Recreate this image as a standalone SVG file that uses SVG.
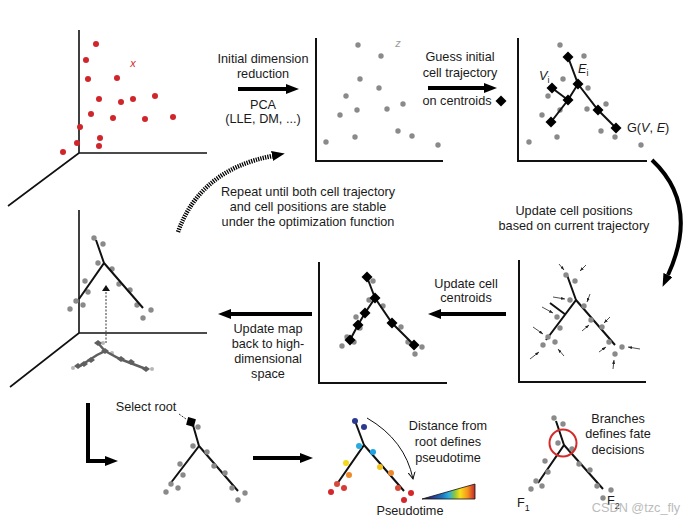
<svg xmlns="http://www.w3.org/2000/svg" width="693" height="525" viewBox="0 0 693 525">
<defs>
<style>
.t{font-family:"Liberation Sans",Arial,sans-serif;font-size:12.7px;fill:#1a1a1a;text-anchor:middle}
.ts{font-family:"Liberation Sans",Arial,sans-serif;font-size:12.7px;fill:#1a1a1a}
.ax{stroke:#111;stroke-width:2;fill:none}
.ax1{stroke:#111;stroke-width:1.6;fill:none}
.tr{stroke:#111;stroke-width:2;fill:none}
.g{fill:#8a8a8a}
.r{fill:#d0262b}
.dm{fill:#000}
.big{stroke:#000;stroke-width:4;fill:none}
.sm{stroke:#222;stroke-width:0.8;fill:none}
</style>
<marker id="ah" markerUnits="userSpaceOnUse" viewBox="0 0 13 10" refX="0" refY="5" markerWidth="13" markerHeight="10" orient="auto">
<path d="M0,0 L13,5 L0,10 z" fill="#000"/>
</marker>
<marker id="sa" markerUnits="userSpaceOnUse" viewBox="0 0 4 3" refX="4" refY="1.5" markerWidth="4" markerHeight="3" orient="auto">
<path d="M0,0 L4,1.5 L0,3 z" fill="#222"/>
</marker>
<marker id="va" markerUnits="userSpaceOnUse" viewBox="0 0 8 8" refX="7" refY="4" markerWidth="8" markerHeight="8" orient="auto">
<path d="M0,0.5 L7,4 L0,7.5" fill="none" stroke="#111" stroke-width="1"/>
</marker>
<marker id="da" markerUnits="userSpaceOnUse" viewBox="0 0 6 8" refX="0" refY="4" markerWidth="6" markerHeight="8" orient="auto">
<path d="M0,0 L6,4 L0,8 z" fill="#111"/>
</marker>
<linearGradient id="pg" x1="0" y1="0" x2="1" y2="0">
<stop offset="0" stop-color="#14143a"/>
<stop offset="0.2" stop-color="#2b3990"/>
<stop offset="0.38" stop-color="#1b75bb"/>
<stop offset="0.5" stop-color="#29abe2"/>
<stop offset="0.62" stop-color="#8dc63f"/>
<stop offset="0.72" stop-color="#f7e01a"/>
<stop offset="0.86" stop-color="#f7941d"/>
<stop offset="1" stop-color="#c1272d"/>
</linearGradient>
<path id="d" d="M0,-5.5 L5.5,0 L0,5.5 L-5.5,0 z"/>
</defs>
<rect width="693" height="525" fill="#fff"/>

<g id="panel-high-dim">
<path class="ax1" d="M79,30 V153 H207 M79,153 L8,206"/>
<g class="r">
<circle cx="96" cy="44" r="3"/><circle cx="86" cy="60" r="3"/><circle cx="88" cy="79" r="3"/><circle cx="117" cy="78" r="3"/>
<circle cx="99" cy="99" r="3"/><circle cx="121" cy="102" r="3"/><circle cx="133" cy="99" r="3"/><circle cx="155" cy="96" r="3"/>
<circle cx="91" cy="114" r="3"/><circle cx="113" cy="118" r="3"/><circle cx="145" cy="119" r="3"/><circle cx="173" cy="117" r="3"/>
<circle cx="80" cy="127" r="3"/><circle cx="100" cy="138" r="3"/><circle cx="77" cy="143" r="3"/><circle cx="99" cy="146" r="3"/><circle cx="63" cy="152" r="3"/>
</g>
<text x="133" y="67" class="t" style="font-size:11px;fill:#d0262b;font-style:italic">x</text>
</g>

<g id="panel-reduced">
<path class="ax" d="M316,38 V161 H443"/>
<g class="g">
<circle cx="358" cy="45" r="2.7"/><circle cx="381" cy="56" r="2.7"/><circle cx="360" cy="79" r="2.7"/><circle cx="379" cy="88" r="2.7"/>
<circle cx="346" cy="96" r="2.7"/><circle cx="357" cy="110" r="2.7"/><circle cx="387" cy="109" r="2.7"/><circle cx="403" cy="104" r="2.7"/>
<circle cx="340" cy="115" r="2.7"/><circle cx="326" cy="142" r="2.7"/><circle cx="355" cy="137" r="2.7"/><circle cx="398" cy="131" r="2.7"/>
<circle cx="412" cy="136" r="2.7"/><circle cx="438" cy="145" r="2.7"/>
</g>
<text x="398" y="47" class="t" style="font-size:11px;fill:#999;font-style:italic">z</text>
</g>

<g id="panel-initial-trajectory">
<path class="ax" d="M518,38 V161 H647"/>
<g class="g">
<circle cx="560" cy="45" r="2.7"/><circle cx="584" cy="56" r="2.7"/><circle cx="563" cy="79" r="2.7"/><circle cx="588" cy="88" r="2.7"/>
<circle cx="548" cy="96" r="2.7"/><circle cx="560" cy="110" r="2.7"/><circle cx="587" cy="109" r="2.7"/><circle cx="606" cy="104" r="2.7"/>
<circle cx="542" cy="115" r="2.7"/><circle cx="529" cy="142" r="2.7"/><circle cx="557" cy="137" r="2.7"/><circle cx="601" cy="131" r="2.7"/>
<circle cx="615" cy="137" r="2.7"/><circle cx="641" cy="145" r="2.7"/>
</g>
<path class="tr" d="M568,57 L578,84 L568,100 L551,122 M552,88 L568,100 M578,84 L598,110 L616,128"/>
<g class="dm">
<use href="#d" x="568" y="57"/><use href="#d" x="578" y="84"/><use href="#d" x="552" y="88"/><use href="#d" x="568" y="100"/>
<use href="#d" x="551" y="122"/><use href="#d" x="598" y="110"/><use href="#d" x="616" y="128"/>
</g>
<text x="539" y="80" class="ts"><tspan font-style="italic">V</tspan><tspan font-size="9" dy="3">i</tspan></text>
<text x="578" y="73" class="ts"><tspan font-style="italic">E</tspan><tspan font-size="9" dy="3">i</tspan></text>
<text x="627" y="132" class="ts">G(<tspan font-style="italic">V</tspan>, <tspan font-style="italic">E</tspan>)</text>
</g>

<g id="panel-update-positions">
<path class="ax" d="M519,260 V382 H646"/>
<path class="tr" d="M567,275 L576,300 L546,340 M550,303 L566,315 M576,300 L615,345"/>
<g class="g">
<circle cx="566" cy="275" r="2.7"/><circle cx="575" cy="281" r="2.7"/><circle cx="570" cy="300" r="2.7"/><circle cx="584" cy="306" r="2.7"/>
<circle cx="557" cy="317" r="2.7"/><circle cx="591" cy="320" r="2.7"/><circle cx="560" cy="328" r="2.7"/><circle cx="602" cy="327" r="2.7"/>
<circle cx="548" cy="337" r="2.7"/><circle cx="555" cy="342" r="2.7"/><circle cx="543" cy="345" r="2.7"/><circle cx="609" cy="342" r="2.7"/>
<circle cx="622" cy="347" r="2.7"/><circle cx="615" cy="354" r="2.7"/>
</g>
<g class="sm" marker-end="url(#sa)">
<path d="M559,264 L564,270"/><path d="M586,265 L580,271"/><path d="M553,297 L565,299"/><path d="M590,294 L587,302"/>
<path d="M542,307 L553,313"/><path d="M582,331 L589,325"/><path d="M610,317 L604,323"/><path d="M533,327 L543,334"/>
<path d="M530,359 L539,352"/><path d="M564,356 L558,349"/><path d="M599,352 L606,347"/><path d="M640,349 L628,347"/>
<path d="M613,369 L614,360"/>
</g>
</g>

<g id="panel-update-centroids">
<path class="ax" d="M319,262 V383 H447"/>
<g class="g">
<circle cx="373" cy="281" r="2.7"/><circle cx="369" cy="300" r="2.7"/><circle cx="383" cy="306" r="2.7"/><circle cx="356" cy="317" r="2.7"/>
<circle cx="360" cy="328" r="2.7"/><circle cx="347" cy="337" r="2.7"/><circle cx="354" cy="342" r="2.7"/><circle cx="342" cy="346" r="2.7"/>
<circle cx="401" cy="327" r="2.7"/><circle cx="408" cy="342" r="2.7"/><circle cx="422" cy="347" r="2.7"/><circle cx="415" cy="354" r="2.7"/>
</g>
<path class="tr" d="M367,277 L375,298 L365,313 L358,325 L350,340 M375,298 L392,323 L414,345"/>
<g class="dm">
<use href="#d" x="367" y="277"/><use href="#d" x="375" y="298"/><use href="#d" x="365" y="313"/><use href="#d" x="358" y="325"/>
<use href="#d" x="350" y="340"/><use href="#d" x="392" y="323"/><use href="#d" x="414" y="345"/>
</g>
</g>

<g id="panel-map-back">
<path class="ax1" d="M79,210 V333 H207 M79,333 L10,387"/>
<g opacity="0.85">
<g fill="#aaa">
<circle cx="73" cy="368" r="2"/><circle cx="152" cy="369" r="2"/><circle cx="103" cy="343" r="2"/><circle cx="112" cy="353" r="2"/>
</g>
<path d="M98,343 L105,351 L97,355 L80,366 M105,351 L120,359 L146,369" stroke="#444" stroke-width="2.5" fill="none"/>
<g fill="#444">
<path d="M98,340 L102,343 L98,346 L94,343 z"/><path d="M105,348 L109,351 L105,354 L101,351 z"/>
<path d="M91,357 L95,360 L91,363 L87,360 z"/><path d="M84,361 L88,364 L84,367 L80,364 z"/><path d="M78,363 L82,366 L78,369 L74,366 z"/>
<path d="M121,356 L125,359 L121,362 L117,359 z"/><path d="M131,359 L135,362 L131,365 L127,362 z"/><path d="M146,366 L150,369 L146,372 L142,369 z"/>
</g>
</g>
<g class="g">
<circle cx="94" cy="238" r="2.7"/><circle cx="103" cy="244" r="2.7"/><circle cx="98" cy="263" r="2.7"/><circle cx="112" cy="269" r="2.7"/>
<circle cx="85" cy="281" r="2.7"/><circle cx="119" cy="284" r="2.7"/><circle cx="88" cy="292" r="2.7"/><circle cx="130" cy="290" r="2.7"/>
<circle cx="76" cy="301" r="2.7"/><circle cx="83" cy="305" r="2.7"/><circle cx="70" cy="309" r="2.7"/><circle cx="137" cy="305" r="2.7"/>
<circle cx="151" cy="310" r="2.7"/><circle cx="143" cy="318" r="2.7"/>
</g>
<path class="tr" d="M96,240 L104,263 L79,299 M104,263 L143,308"/>
<path d="M106,343 L106,291" stroke="#555" stroke-width="1.2" stroke-dasharray="2 1.5" fill="none" marker-end="url(#da)" transform="rotate(0)"/>
</g>

<g id="panel-select-root">
<path class="tr" d="M193,425 L199,446 L170,484 M199,446 L238,491"/>
<g class="g">
<circle cx="198" cy="427" r="2.7"/><circle cx="193" cy="446" r="2.7"/><circle cx="207" cy="452" r="2.7"/><circle cx="180" cy="464" r="2.7"/>
<circle cx="214" cy="466" r="2.7"/><circle cx="183" cy="475" r="2.7"/><circle cx="225" cy="473" r="2.7"/><circle cx="171" cy="484" r="2.7"/>
<circle cx="178" cy="488" r="2.7"/><circle cx="166" cy="492" r="2.7"/><circle cx="232" cy="488" r="2.7"/><circle cx="245" cy="493" r="2.7"/>
<circle cx="238" cy="500" r="2.7"/>
</g>
<rect x="187" y="418" width="8" height="8" transform="rotate(15 191 422)" fill="#000"/>
<path d="M179,414 L186,419" stroke="#222" stroke-width="0.9" stroke-dasharray="2 1.3"/>
<text x="146" y="411" class="t">Select root</text>
</g>

<g id="panel-pseudotime">
<path class="tr" d="M355,421 L364,445 L337,484 M364,445 L404,491"/>
<circle cx="355" cy="421" r="3" fill="#2b3990"/><circle cx="364" cy="427" r="3" fill="#2b3990"/>
<circle cx="359" cy="446" r="3" fill="#29abe2"/><circle cx="373" cy="452" r="3" fill="#1fa3e3"/>
<circle cx="346" cy="463" r="3" fill="#f4d81c"/><circle cx="380" cy="467" r="3" fill="#f1c31f"/>
<circle cx="349" cy="475" r="3" fill="#ec8b2c"/><circle cx="391" cy="473" r="3" fill="#ea8a2e"/>
<circle cx="337" cy="484" r="3" fill="#d9493a"/><circle cx="344" cy="488" r="3" fill="#d63c35"/><circle cx="331" cy="492" r="3" fill="#d4262b"/>
<circle cx="398" cy="488" r="3" fill="#d94a3a"/><circle cx="411" cy="493" r="3" fill="#d4262b"/><circle cx="404" cy="500" r="3" fill="#d4262b"/>
<path d="M367,418 Q405,440 413,479" stroke="#111" stroke-width="1" fill="none" marker-end="url(#va)"/>
<text x="448" y="430" class="t">Distance from</text>
<text x="448" y="446" class="t">root defines</text>
<text x="448" y="462" class="t">pseudotime</text>
<polygon points="422,499 475,499 475,484" fill="url(#pg)" stroke="#111" stroke-width="0.8"/>
<text x="410" y="515" class="t">Pseudotime</text>
</g>

<g id="panel-fate">
<path class="tr" d="M556,421 L564,445 L538,483 M564,445 L603,489"/>
<g class="g">
<circle cx="554" cy="418" r="2.7"/><circle cx="563" cy="424" r="2.7"/><circle cx="558" cy="443" r="2.7"/><circle cx="572" cy="449" r="2.7"/>
<circle cx="545" cy="461" r="2.7"/><circle cx="579" cy="464" r="2.7"/><circle cx="548" cy="472" r="2.7"/><circle cx="590" cy="470" r="2.7"/>
<circle cx="536" cy="481" r="2.7"/><circle cx="542" cy="486" r="2.7"/><circle cx="531" cy="489" r="2.7"/><circle cx="597" cy="486" r="2.7"/>
<circle cx="611" cy="490" r="2.7"/><circle cx="603" cy="498" r="2.7"/>
</g>
<circle cx="563" cy="443" r="13.5" fill="none" stroke="#d42a2a" stroke-width="2"/>
<text x="618" y="423" class="t">Branches</text>
<text x="618" y="438" class="t">defines fate</text>
<text x="618" y="454" class="t">decisions</text>
<text x="517" y="507" class="ts">F<tspan font-size="9" dy="4">1</tspan></text>
<text x="607" y="505" class="ts">F<tspan font-size="9" dy="4">2</tspan></text>
<text x="636" y="512" class="t" style="fill:#b5b5b5;opacity:0.9">CSDN @tzc_fly</text>
</g>

<g id="labels">
<text x="263" y="63" class="t">Initial dimension</text>
<text x="263" y="78" class="t">reduction</text>
<text x="263" y="109" class="t">PCA</text>
<text x="263" y="123" class="t">(LLE, DM, ...)</text>
<text x="460" y="61" class="t">Guess initial</text>
<text x="460" y="77" class="t">cell trajectory</text>
<text x="457" y="105" class="t">on centroids</text>
<use href="#d" x="501" y="101" class="dm"/>
<text x="574" y="215" class="t">Update cell positions</text>
<text x="574" y="230" class="t">based on current trajectory</text>
<text x="466" y="288" class="t">Update cell</text>
<text x="466" y="302" class="t">centroids</text>
<text x="268" y="333" class="t">Update map</text>
<text x="268" y="348" class="t">back to high-</text>
<text x="268" y="363" class="t">dimensional</text>
<text x="268" y="378" class="t">space</text>
<text x="308" y="196" class="t">Repeat until both cell trajectory</text>
<text x="308" y="211" class="t">and cell positions are stable</text>
<text x="308" y="226" class="t">under the optimization function</text>
</g>

<g id="connectors">
<path class="big" d="M238,89 H286" marker-end="url(#ah)"/>
<path class="big" d="M428,88 H484" marker-end="url(#ah)"/>
<path class="big" d="M652,160 Q700,205 668,275" marker-end="url(#ah)"/>
<path class="big" d="M506,314 H441" marker-end="url(#ah)"/>
<path class="big" d="M312,314 H231" marker-end="url(#ah)"/>
<path d="M178,232 Q200,170 272,156" stroke="#000" stroke-width="4.5" stroke-dasharray="1.3 1.1" fill="none" marker-end="url(#ah)"/>
<path class="big" d="M88,403 V461 H105" marker-end="url(#ah)"/>
<path class="big" d="M253,458 H300" marker-end="url(#ah)"/>
</g>
</svg>
